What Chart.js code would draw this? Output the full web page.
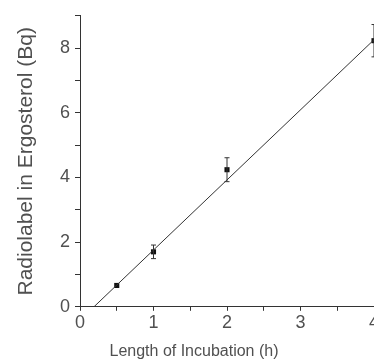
<!DOCTYPE html>
<html>
<head>
<meta charset="utf-8">
<script src="https://cdn.jsdelivr.net/npm/chart.js@4"></script>
<style>
  html, body { margin: 0; padding: 0; overflow: hidden; background: #fff; }
  canvas { display: block; }
</style>
</head>
<body>
<canvas id="chart" width="400" height="362"></canvas>
<script>
// measured points (hours, Bq) with standard error
const hours = [0.5, 1, 2, 4];
const radiolabel = [0.66, 1.70, 4.24, 8.23];
const errors = [0.05, 0.21, 0.37, 0.5];

// regression line end points
const fitHours = [0.19, 4];
const fitValues = [0, 8.26];

const xTicks = ['0', '1', '2', '3', '4'];
const yTicks = ['0', '2', '4', '6', '8'];

const ink = '#333';
const text = '#505050';
const family = '"Liberation Sans", Arial, sans-serif';
const tickFont = { family: family, size: 18 };
const xTitleFont = { family: family, size: 16, weight: 'normal' };
const yTitleFont = { family: family, size: 21 };

// error bars drawn through the scales
const errorBars = {
    id: 'errorBars',
    afterDatasetsDraw(chart) {
        const { ctx, scales: { x, y } } = chart;
        ctx.save();
        ctx.strokeStyle = ink;
        ctx.lineWidth = 1;
        hours.forEach((h, i) => {
            if (errors[i] < 0.1) return;
            const px = x.getPixelForValue(h);
            const top = y.getPixelForValue(radiolabel[i] + errors[i]);
            const bot = y.getPixelForValue(radiolabel[i] - errors[i]);
            ctx.beginPath();
            ctx.moveTo(px, top); ctx.lineTo(px, bot);
            ctx.moveTo(px - 2.5, top); ctx.lineTo(px + 2.5, top);
            ctx.moveTo(px - 2.5, bot); ctx.lineTo(px + 2.5, bot);
            ctx.stroke();
        });
        ctx.restore();
    }
};

const ctx = document.getElementById('chart').getContext('2d');
const chart = new Chart(ctx, {
    type: 'scatter',
    data: {
        datasets: [{
            type: 'line',
            data: fitHours.map((h, i) => ({ x: h, y: fitValues[i] })),
            borderColor: ink,
            borderWidth: 1,
            pointRadius: 0,
            fill: false
        }, {
            data: hours.map((h, i) => ({ x: h, y: radiolabel[i] })),
            pointStyle: 'rect',
            pointRadius: 3.6,
            backgroundColor: '#111',
            borderColor: '#111',
            borderWidth: 0,
            clip: false
        }]
    },
    options: {
        responsive: false,
        animation: false,
        layout: { padding: { top: 12, right: 26, left: 14, bottom: 0 } },
        plugins: {
            legend: { display: false },
            tooltip: { enabled: false },
            // x-axis caption, centred on the whole figure like the original
            title: {
                display: true,
                position: 'bottom',
                text: 'Length of Incubation (h)',
                color: text,
                font: xTitleFont,
                padding: { top: 3, bottom: 1 }
            }
        },
        scales: {
            x: {
                type: 'linear',
                min: 0,
                max: 4,
                afterFit: (s) => { s.height = 32; },
                border: { display: true, color: ink, width: 1 },
                grid: { drawOnChartArea: false, drawTicks: true, tickLength: 4, color: ink },
                ticks: {
                    stepSize: 0.5,
                    autoSkip: false,
                    maxRotation: 0,
                    padding: 1,
                    color: text,
                    font: tickFont,
                    callback: (v) => Number.isInteger(v) ? xTicks[v] : ''
                }
            },
            y: {
                min: 0,
                max: 9,
                afterFit: (s) => { s.width = 66; },
                border: { display: true, color: ink, width: 1 },
                grid: { drawOnChartArea: false, drawTicks: true, tickLength: 5, color: ink },
                ticks: {
                    stepSize: 1,
                    autoSkip: false,
                    padding: 5,
                    color: text,
                    font: tickFont,
                    callback: (v) => v % 2 === 0 ? yTicks[v / 2] : ''
                },
                title: {
                    display: true,
                    text: 'Radiolabel in Ergosterol (Bq)',
                    color: text,
                    font: yTitleFont,
                    padding: { top: 0, bottom: 0 }
                }
            }
        }
    },
    plugins: [errorBars]
});
</script>
</body>
</html>
